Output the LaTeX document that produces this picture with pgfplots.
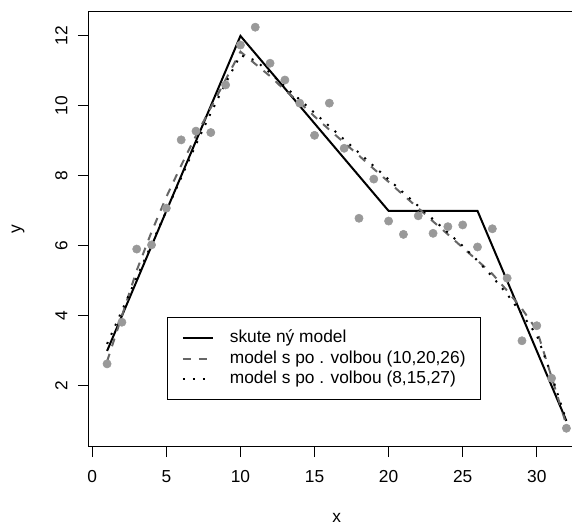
\documentclass[border=0pt]{standalone}
\usepackage{fontspec}
\setmainfont{Liberation Sans}
\usepackage{pgfplots}
\pgfplotsset{compat=1.18}
\definecolor{ptgray}{HTML}{999999}
\definecolor{dashgray}{HTML}{666666}
\begin{document}
\fontsize{13}{15.6}\selectfont
\begin{tikzpicture}
\begin{axis}[
  scale only axis,
  width=372.1pt, height=326pt,
  xmin=-0.243, xmax=33.24,
  ymin=0.27, ymax=12.69,
  xtick={0,5,10,15,20,25,30},
  ytick={2,4,6,8,10,12},
  xtick pos=bottom, ytick pos=left,
  tick align=outside,
  major tick length=8pt,
  every tick/.style={black, line width=0.8pt},
  axis line style={black, line width=0.8pt},
  /pgf/number format/assume math mode=true,
  xticklabel style={anchor=center, yshift=-14.5pt},
  yticklabel style={rotate=90, anchor=center, yshift=12.5pt},
  xlabel={x}, ylabel={y},
  xlabel style={at={(axis description cs:0.5,0)}, anchor=center, yshift=-53.6pt},
  ylabel style={at={(axis description cs:0,0.5)}, anchor=center, yshift=53pt},
  legend image code/.code={\draw[#1] (0pt,0pt) -- (22.5pt,0pt);},
  legend style={at={(axis cs:5.02,3.97)}, anchor=north west, draw=black, line width=0.8pt,
    inner xsep=11pt, inner ysep=9.6pt, row sep=3pt, column sep=12pt,
    nodes={inner sep=0pt, text height=9.5pt, text depth=2.7pt},
    cells={anchor=west}},
]
\addplot[only marks, mark=*, mark size=3.1pt, color=ptgray, forget plot] coordinates {
(1,2.63) (2,3.82) (3,5.91) (4,6.03) (5,7.08) (6,9.03) (7,9.28) (8,9.24)
(9,10.60) (10,11.74) (11,12.25) (12,11.22) (13,10.74) (14,10.08) (15,9.16) (16,10.08)
(17,8.79) (18,6.79) (19,7.91) (20,6.71) (21,6.33) (22,6.86) (23,6.36) (24,6.55)
(25,6.60) (26,5.97) (27,6.49) (28,5.08) (29,3.29) (30,3.72) (31,2.22) (32,0.79)
};
\addplot[black, line width=1.5pt, line join=miter] coordinates {
(1,3) (10,12) (20,7) (26,7) (32,1)
};
\addlegendentry{skute ný model}
\addplot[dashgray, line width=1.5pt, dash pattern=on 6pt off 6pt] coordinates {
(1,2.70) (2,4.00) (3,5.30) (4,6.40) (5,7.40) (6,8.30) (7,9.15) (8,9.95) (9,10.75) (10,11.55)
(11,11.20) (12,10.85) (13,10.45) (14,10.10) (15,9.70) (16,9.32) (17,8.95) (18,8.58) (19,8.20)
(20,7.83) (21,7.45) (22,7.08) (23,6.70) (24,6.33) (25,5.95) (26,5.58) (27,5.20) (28,4.72)
(29,4.20) (30,3.60) (31,2.25) (32,0.88)
};
\addlegendentry{model s po . volbou (10,20,26)}
\addplot[black, line width=1.5pt, dash pattern=on 1.5pt off 6pt] coordinates {
(1,3.20) (2,4.15) (3,5.10) (4,6.05) (5,7.00) (6,7.95) (7,8.90) (8,9.80) (9,10.65) (10,11.45)
(11,11.30) (12,10.95) (13,10.55) (14,10.18) (15,9.80) (16,9.42) (17,9.04) (18,8.66) (19,8.28)
(20,7.90) (21,7.52) (22,7.14) (23,6.76) (24,6.38) (25,6.00) (26,5.58) (27,5.12) (28,4.62)
(29,4.05) (30,3.45) (31,2.30) (32,1.00)
};
\addlegendentry{model s po . volbou (8,15,27)}
\end{axis}
\pgfresetboundingbox
\path[use as bounding box] ([xshift=-66.5pt,yshift=-60.4pt]current axis.south west) rectangle ++(429pt,395.25pt);
\end{tikzpicture}
\end{document}
